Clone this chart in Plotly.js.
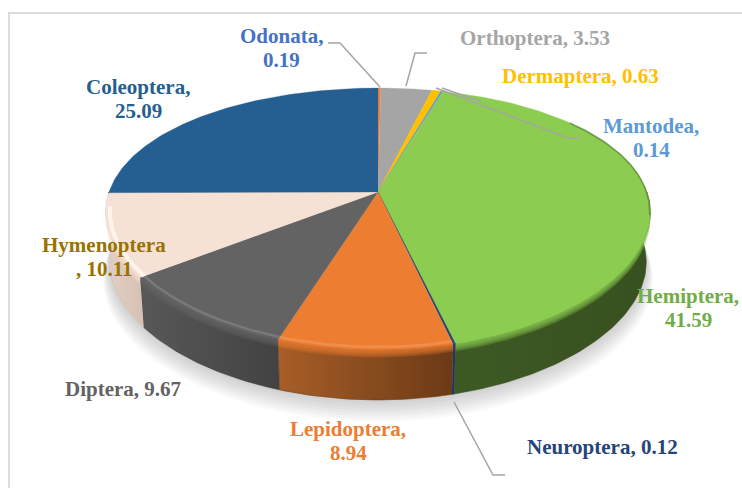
<!DOCTYPE html>
<html><head><meta charset="utf-8">
<script src="https://cdn.plot.ly/plotly-3.0.1.min.js"></script>
<style>html,body{margin:0;padding:0;background:#fff}</style></head>
<body><div id="chart" style="width:742px;height:488px"></div>
<script>
// ---- data, clockwise from 12 o'clock ----
const categories = ["Odonata","Orthoptera","Dermaptera","Mantodea","Hemiptera","Neuroptera","Lepidoptera","Diptera","Hymenoptera","Coleoptera"];
const values = [0.19,3.53,0.63,0.14,41.59,0.12,8.94,9.67,10.11,25.09];
const sliceColors = ["#ed7d31","#a5a5a5","#ffc000","#5b9bd5","#8ccc50","#264478","#ed7d31","#636363","#f6e1d5","#255e91"];
const sideLeft  = ["#a05a24","#777777","#b08500","#3f6d96","#3d5a24","#1d3560","#a85e27","#585858","#e3d0c5","#1b4469"];
const sideRight = ["#a05a24","#777777","#b08500","#3f6d96","#37501f","#1d3560","#6b3a16","#424242","#d6c0b3","#1b4469"];
const labelColors = ["#4472c4","#a5a5a5","#ffc000","#5b9bd5","#70ad47","#264478","#ed7d31","#636363","#997300","#255e91"];
const labelBreaks = [",|",", ",", ",",|",",|",", ",",|",", ","|, ",",|"];
const labelX = [281,535,580,651,688,602,348,123,104,138];
const labelY = [48,38,76,138,308,447,441,389,257,99];

// ---- projection of the tilted disc (perspective) ----
const cx=378, cy=192, kx=0.156, k=0.206, A=269, B=125.4, DEPTH=50;
function pt(th,r,dy,sx){
  const u=r*Math.sin(th), v=-r*Math.cos(th);
  return [cx+A*u/(1-kx*v)*(sx||1), cy+B*v/(1-k*v)+(dy||0)];
}
function arc(a,b,r,dy,sx){
  const n=Math.max(2,Math.ceil(Math.abs(b-a)/0.02)), out=[];
  for(let i=0;i<=n;i++) out.push(pt(a+(b-a)*i/n,r,dy,sx));
  return out;
}
function poly(points,color,extra){
  return Object.assign({type:"scatter",mode:"lines",x:points.map(p=>p[0]),y:points.map(p=>p[1]),
    fill:"toself",fillcolor:color,line:{width:0,color:color},hoverinfo:"skip",showlegend:false},extra||{});
}
function stroke(points,color,width){
  return {type:"scatter",mode:"lines",x:points.map(p=>p[0]),y:points.map(p=>p[1]),
    line:{width:width,color:color},hoverinfo:"skip",showlegend:false};
}
function rgba(hex,al){
  const n=parseInt(hex.slice(1),16);
  return "rgba("+(n>>16)+","+((n>>8)&255)+","+(n&255)+","+al+")";
}
const total=values.reduce((a,b)=>a+b,0);
const edges=[0]; values.forEach(v=>edges.push(edges[edges.length-1]+v/total*2*Math.PI));
const traces=[];

// soft shadow under the disc
for(let i=1;i<=8;i++){
  traces.push(poly(arc(0,2*Math.PI,1+i*0.003,DEPTH+i*2.1,0.985),"rgba(90,90,90,0.04)"));
}
// side wall
const lo=Math.PI/2, hi=3*Math.PI/2;
values.forEach((v,i)=>{
  const a=Math.max(edges[i],lo), b=Math.min(edges[i+1],hi);
  if(b<=a) return;
  const top=arc(a,b,1,0,1), bot=arc(b,a,1,DEPTH,0.985);
  traces.push(poly(top.concat(bot),sideLeft[i],{
    fillgradient:{type:"horizontal",colorscale:[[0,sideLeft[i]],[1,sideRight[i]]]},
    line:{width:0.6,color:sideRight[i]}}));
});
// top faces
values.forEach((v,i)=>{
  const pts=[[cx,cy]].concat(arc(edges[i],edges[i+1],1,0,1));
  traces.push(poly(pts,sliceColors[i],{line:{width:values[i]<1?0.7:0.3,color:sliceColors[i]}}));
});
// rounded front edge: the top colour fades into the wall, with a soft highlight on the edge
values.forEach((v,i)=>{
  const a=Math.max(edges[i],1.75), b=Math.min(edges[i+1],4.6);
  if(b<=a) return;
  [1.5,3,4.5,6,7.5].forEach(d=>{
    traces.push(poly(arc(a,b,1,0).concat(arc(b,a,1,d)),rgba(sliceColors[i],0.26)));
  });
  if(i===6||i===7) traces.push(stroke(arc(a,b,0.985),"rgba(255,255,255,0.14)",2.5));
  if(i===8) traces.push(stroke(arc(a,b,0.985),"rgba(255,250,240,0.8)",4));
});
// darker rim on the far right of the disc
traces.push(stroke(arc(0.9,1.75,0.998),"rgba(70,110,40,0.55)",1.6));
// leader lines
const leaders=[
  [[328,43],[340,43],[380,87]],
  [[427,53],[415,53],[406,86]],
  [[442,88],[480,101]],
  [[436,88],[568,138],[580,138]],
  [[454,402],[493,475],[505,475]]
];
leaders.forEach(l=>traces.push(stroke(l,"#a5a5a5",1.5)));

const annotations=[];
categories.forEach((c,i)=>{
  const lines=(c+labelBreaks[i]+values[i].toFixed(2)).split("|");
  lines.forEach((t,j)=>annotations.push({
    x:labelX[i],y:labelY[i]+(j-(lines.length-1)/2)*24,xref:"x",yref:"y",showarrow:false,
    text:"<b>"+t+"</b>",
    font:{family:"Liberation Serif",size:21,color:labelColors[i]}
  }));
});
const layout={width:742,height:488,margin:{l:0,r:0,t:0,b:0},paper_bgcolor:"#fff",plot_bgcolor:"#fff",showlegend:false,
  xaxis:{visible:false,range:[0,742],fixedrange:true},
  yaxis:{visible:false,range:[488,0],fixedrange:true},
  annotations,
  shapes:[
    {type:"line",xref:"x",yref:"y",x0:9,x1:9,y0:12,y1:488,line:{color:"#dcdcdc",width:2}},
    {type:"line",xref:"x",yref:"y",x0:8,x1:742,y0:13,y1:13,line:{color:"#dcdcdc",width:2}}
  ]};
Plotly.newPlot("chart",traces,layout,{displayModeBar:false,staticPlot:true});
</script></body></html>
